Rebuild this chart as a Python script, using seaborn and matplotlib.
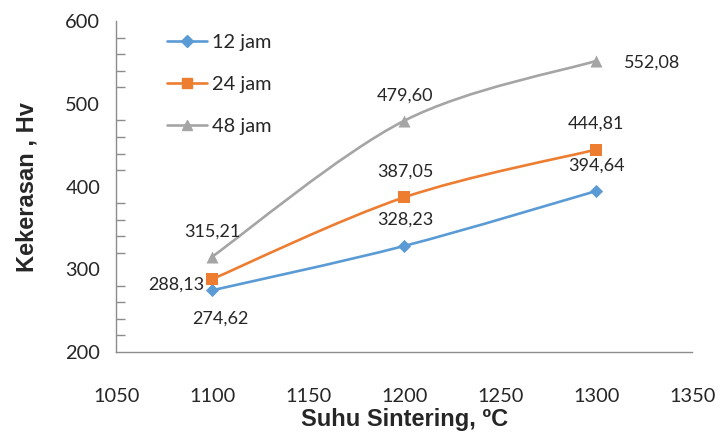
import numpy as np
import pandas as pd
import seaborn as sns
import matplotlib.pyplot as plt
from matplotlib.path import Path
from matplotlib.patches import PathPatch
from matplotlib.lines import Line2D

# data kekerasan (Hv) per suhu sintering
suhu = [1100, 1200, 1300]
jam_12 = [274.62, 328.23, 394.64]
jam_24 = [288.13, 387.05, 444.81]
jam_48 = [315.21, 479.60, 552.08]
seri = ['12 jam', '24 jam', '48 jam']
label_12 = ['274,62', '328,23', '394,64']
label_24 = ['288,13', '387,05', '444,81']
label_48 = ['315,21', '479,60', '552,08']
x_ticks = [1050, 1100, 1150, 1200, 1250, 1300, 1350]
y_ticks = [200, 300, 400, 500, 600]

warna = {'12 jam': '#5B9BD5', '24 jam': '#ED7D31', '48 jam': '#A5A5A5'}
penanda = {'12 jam': 'D', '24 jam': 's', '48 jam': '^'}
ukuran = {'12 jam': 45, '24 jam': 75, '48 jam': 75}

df = pd.DataFrame({
    'suhu': suhu * 3,
    'hv': jam_12 + jam_24 + jam_48,
    'seri': [s for s in seri for _ in suhu],
})

sns.set_style('white')
plt.rcParams['font.family'] = ['Lato', 'DejaVu Sans']

fig = plt.figure(figsize=(7.21, 4.33), dpi=100)
ax = fig.add_axes([0.161, 0.187, 0.799, 0.764])


def kurva_halus(x, y):
    # bezier ala excel (smoothed line)
    p = np.column_stack([x, y]).astype(float)
    p = np.vstack([p[0], p, p[-1]])
    verts = [tuple(p[1])]
    codes = [Path.MOVETO]
    for i in range(1, len(p) - 2):
        c1 = p[i] + (p[i + 1] - p[i - 1]) / 6
        c2 = p[i + 1] - (p[i + 2] - p[i]) / 6
        verts += [tuple(c1), tuple(c2), tuple(p[i + 1])]
        codes += [Path.CURVE4] * 3
    return Path(verts, codes)


for s in seri:
    d = df[df.seri == s]
    ax.add_patch(PathPatch(kurva_halus(d.suhu.values, d.hv.values), fill=False,
                           edgecolor=warna[s], lw=1.9, zorder=2))
    sns.scatterplot(data=d, x='suhu', y='hv', color=warna[s], marker=penanda[s],
                    s=ukuran[s], edgecolor=warna[s], linewidth=0, ax=ax,
                    zorder=3, legend=False)

# label data (offset piksel)
off = {
    '12 jam': [(8, -28, 'center'), (1, 26, 'center'), (0, 25, 'center')],
    '24 jam': [(-8, -5, 'right'), (1, 26, 'center'), (0, 26, 'center')],
    '48 jam': [(0, 25, 'center'), (1, 25, 'center'), (56, -2, 'center')],
}
teks = {'12 jam': label_12, '24 jam': label_24, '48 jam': label_48}
nilai = {'12 jam': jam_12, '24 jam': jam_24, '48 jam': jam_48}
for s in seri:
    for i, xv in enumerate(suhu):
        dx, dy, ha = off[s][i]
        ax.annotate(teks[s][i], (xv, nilai[s][i]), xytext=(dx, dy),
                    textcoords='offset pixels', ha=ha, va='center',
                    fontsize=13, color='#262626')

ax.set_xlim(1050, 1350)
ax.set_ylim(200, 600)
ax.set_xticks(x_ticks)
ax.set_yticks(y_ticks)
ax.set_yticks(np.arange(200, 601, 20), minor=True)
ax.tick_params(axis='y', which='major', direction='inout', length=15, width=1,
               color='#8c8c8c', labelsize=14.4, pad=4)
ax.tick_params(axis='y', which='minor', direction='in', length=6.5, width=1,
               color='#8c8c8c', left=True)
ax.tick_params(axis='x', which='major', direction='out', length=8, width=1,
               color='#8c8c8c', labelsize=14.4, pad=18)
for sp in ['top', 'right']:
    ax.spines[sp].set_visible(False)
for sp in ['left', 'bottom']:
    ax.spines[sp].set_color('#8c8c8c')
    ax.spines[sp].set_linewidth(1)

ax.set_xlabel('Suhu Sintering, ºC', fontsize=17, fontweight='bold',
              family=['Liberation Sans', 'DejaVu Sans'], labelpad=2)
ax.set_ylabel('Kekerasan , Hv', fontsize=17, fontweight='bold',
              family=['Liberation Sans', 'DejaVu Sans'], labelpad=19)

handles = [Line2D([], [], color=warna[s], marker=penanda[s], lw=1.9,
                  markersize=6 if s == '12 jam' else 7.5) for s in seri]
ax.legend(handles, seri, loc='upper left', bbox_to_anchor=(0.088, 0.96),
          frameon=False, fontsize=14.4, handlelength=2.0, handletextpad=0.25,
          labelspacing=1.25, borderpad=0, borderaxespad=0)

fig.savefig('out.png', dpi=100)
